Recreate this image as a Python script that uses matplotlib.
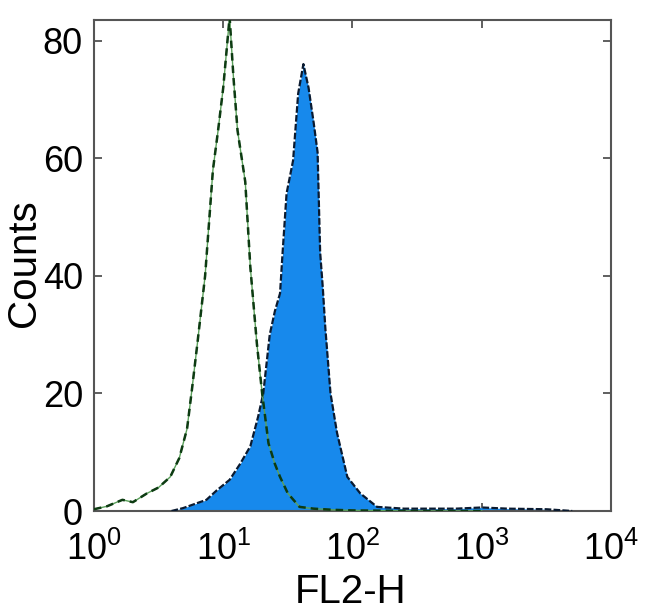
import numpy as np
import matplotlib.pyplot as plt

plt.rcParams['font.family'] = ['Liberation Sans', 'DejaVu Sans']
plt.rcParams['mathtext.fontset'] = 'custom'
plt.rcParams['mathtext.rm'] = 'Liberation Sans'
plt.rcParams['mathtext.it'] = 'Liberation Sans'
plt.rcParams['mathtext.default'] = 'regular'

# isotype control (open, green/black dashed outline)
ctrl_fl = [1.0, 1.26, 1.66, 2.0, 2.57, 3.16, 3.89, 4.57, 5.25, 5.75, 6.31, 7.24,
           8.32, 9.12, 10.0, 10.96, 11.2, 12.0, 12.9, 14.8, 16.2, 18.2, 20.0,
           22.4, 25.1, 27.5, 31.6, 38.9, 50.0, 71.0, 100.0, 300.0, 1000.0]
ctrl_counts = [0.3, 0.8, 1.9, 1.5, 3.0, 4.0, 5.8, 9.0, 14.0, 21.0, 28.5, 40.0,
               58.0, 64.7, 72.0, 81.7, 84.0, 73.7, 64.7, 56.0, 41.5, 28.5, 20.0,
               11.5, 8.0, 5.8, 3.0, 0.7, 0.4, 0.2, 0.1, 0.0, 0.0]

# stained sample (filled blue)
stain_fl = [3.98, 4.9, 7.41, 8.9, 11.2, 13.5, 16.2, 18.6, 20.4, 22.9, 25.1,
            27.5, 28.8, 30.9, 34.7, 38.0, 41.7, 45.7, 50.1, 53.7, 56.2, 58.9,
            61.7, 67.6, 75.9, 91.2, 114.8, 154.9, 251.0, 631.0, 1000.0,
            1585.0, 3162.0, 5012.0]
stain_counts = [0.0, 0.5, 1.9, 3.5, 5.3, 8.0, 11.0, 16.0, 20.0, 30.0, 34.0,
                37.0, 44.0, 54.0, 59.6, 71.0, 76.0, 72.0, 66.0, 61.0, 44.0, 38.0,
                31.0, 20.0, 13.3, 5.8, 3.0, 0.7, 0.4, 0.4, 0.6,
                0.4, 0.3, 0.0]

xticks = [1, 10, 100, 1000, 10000]
xtick_labels = ['$10^0$', '$10^1$', '$10^2$', '$10^3$', '$10^4$']
yticks = [0, 20, 40, 60, 80]

fig = plt.figure(figsize=(6.5, 6.15), dpi=100)
ax = fig.add_axes([0.1446, 0.1691, 0.7954, 0.7984])

ax.fill_between(stain_fl, stain_counts, 0, color='#1789ec', lw=0, zorder=2)
ax.plot(stain_fl, stain_counts, color='#0a1a30', lw=1.6, ls=(0, (3, 1)), zorder=3)

ax.plot(ctrl_fl, ctrl_counts, color='#5aa05a', lw=1.0, zorder=4)
ax.plot(ctrl_fl, ctrl_counts, color='#0d3b12', lw=1.8, ls=(0, (3, 2)), zorder=5)

ax.set_xscale('log')
ax.set_xlim(1, 10000)
ax.set_ylim(0, 83.5)
ax.set_xticks(xticks)
ax.set_xticklabels(xtick_labels)
ax.set_yticks(yticks)
ax.minorticks_off()

ax.tick_params(direction='in', length=6, width=1.2, color='#444444',
               top=True, right=True, labelsize=26)
ax.tick_params(axis='y', pad=8)
ax.tick_params(axis='x', pad=15)
for s in ax.spines.values():
    s.set_color('#555555')
    s.set_linewidth(1.5)

ax.set_xlabel('FL2-H', fontsize=29)
ax.set_ylabel('Counts', fontsize=29)
ax.xaxis.set_label_coords(0.497, -0.126)
ax.yaxis.set_label_coords(-0.099, 0.505)

fig.savefig('out.png', dpi=100)
